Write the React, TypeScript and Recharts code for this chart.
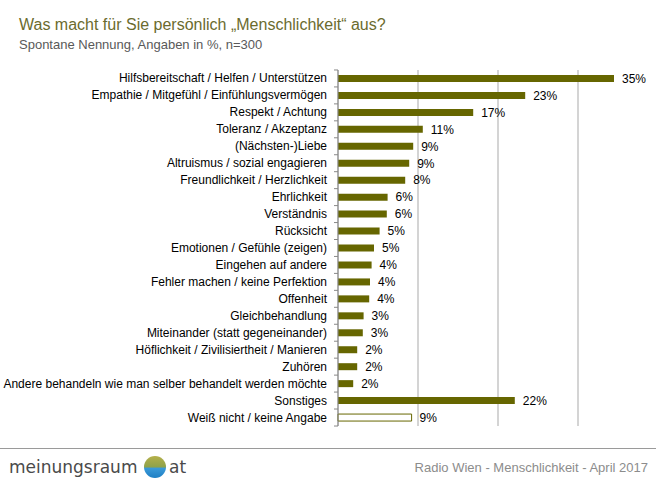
import React from 'react';
import { BarChart, Bar, XAxis, YAxis, CartesianGrid, LabelList, Cell } from 'recharts';

const categories = [
  'Hilfsbereitschaft / Helfen / Unterstützen',
  'Empathie / Mitgefühl / Einfühlungsvermögen',
  'Respekt / Achtung',
  'Toleranz / Akzeptanz',
  '(Nächsten-)Liebe',
  'Altruismus / sozial engagieren',
  'Freundlichkeit / Herzlichkeit',
  'Ehrlichkeit',
  'Verständnis',
  'Rücksicht',
  'Emotionen / Gefühle (zeigen)',
  'Eingehen auf andere',
  'Fehler machen / keine Perfektion',
  'Offenheit',
  'Gleichbehandlung',
  'Miteinander (statt gegeneinander)',
  'Höflichkeit / Zivilisiertheit / Manieren',
  'Zuhören',
  'Andere behandeln wie man selber behandelt werden möchte',
  'Sonstiges',
  'Weiß nicht / keine Angabe',
];

const values = [34.5, 23.4, 16.9, 10.6, 9.4, 8.9, 8.4, 6.2, 6.1, 5.2, 4.5, 4.2, 4.0, 3.9, 3.2, 3.1, 2.4, 2.4, 1.9, 22.1, 9.2];

const valueLabels = ['35%', '23%', '17%', '11%', '9%', '9%', '8%', '6%', '6%', '5%', '5%', '4%', '4%', '4%', '3%', '3%', '2%', '2%', '2%', '22%', '9%'];

const xTicks = [0, 10, 20, 30, 40];

const rows = categories.map((name, i) => ({ name, value: values[i], label: valueLabels[i] }));

const OLIVE = '#666600';
const FONT = 'Arial, "Liberation Sans", sans-serif';

// category label plus the little tick marks between the rows
const CategoryTick = (props: any) => {
  const { x, y, payload, index } = props;
  const axisX = x + 11;
  return (
    <g>
      <text x={x} y={y} dy={4} textAnchor="end" fontSize={12} fill="#000" fontFamily={FONT}>
        {payload.value}
      </text>
      <line x1={axisX - 4} x2={axisX} y1={y - 8.5} y2={y - 8.5} stroke="#888" />
      {index === categories.length - 1 && (
        <line x1={axisX - 4} x2={axisX} y1={y + 8.5} y2={y + 8.5} stroke="#888" />
      )}
    </g>
  );
};

export default function App() {
  return (
    <div style={{ position: 'absolute', left: 0, top: 0, width: 656, height: 482, overflow: 'hidden', background: '#fff', fontFamily: FONT }}>
      <div style={{ position: 'absolute', left: 19, top: 16, fontSize: 16, color: '#6b6b2e', whiteSpace: 'nowrap' }}>
        Was macht für Sie persönlich „Menschlichkeit“ aus?
      </div>
      <div style={{ position: 'absolute', left: 19, top: 37, fontSize: 13, color: '#595959', whiteSpace: 'nowrap' }}>
        Spontane Nennung, Angaben in %, n=300
      </div>

      <div style={{ position: 'absolute', left: 0, top: 0 }}>
        <BarChart
          width={660}
          height={482}
          layout="vertical"
          data={rows}
          margin={{ top: 70, right: 2, bottom: 56, left: 0 }}
          barSize={7}
        >
          <CartesianGrid horizontal={false} stroke="#bdbdbd" strokeWidth={1.3} />
          <XAxis type="number" domain={[0, 40]} ticks={xTicks} hide />
          <YAxis
            type="category"
            dataKey="name"
            width={338}
            interval={0}
            tickSize={4}
            tickMargin={7}
            tickLine={false}
            axisLine={{ stroke: '#888' }}
            tick={<CategoryTick />}
          />
          <Bar dataKey="value" isAnimationActive={false}>
            {rows.map((r, i) => (
              <Cell
                key={r.name}
                fill={i === rows.length - 1 ? '#fff' : OLIVE}
                stroke={i === rows.length - 1 ? OLIVE : 'none'}
              />
            ))}
            <LabelList dataKey="label" position="right" offset={8} fill="#000" fontSize={12} fontFamily={FONT} />
          </Bar>
        </BarChart>
      </div>

      {/* footer */}
      <div style={{ position: 'absolute', left: 0, top: 448, width: 656, height: 1, background: '#9a9a9a' }} />
      <svg style={{ position: 'absolute', left: 0, top: 452 }} width={200} height={30}>
        <defs>
          <linearGradient id="globe" x1="0" y1="0" x2="0" y2="1">
            <stop offset="0" stopColor="#b5b04a" />
            <stop offset="0.5" stopColor="#8fa24a" />
            <stop offset="0.55" stopColor="#3a9ad9" />
            <stop offset="1" stopColor="#1e7fc4" />
          </linearGradient>
        </defs>
        <text x={9} y={21} fontSize={17} fill="#4a4a4a" fontFamily='"DejaVu Sans", sans-serif'>
          meinungsraum
        </text>
        <circle cx={155} cy={15} r={11} fill="url(#globe)" />
        <text x={169} y={21} fontSize={17} fill="#4a4a4a" fontFamily='"DejaVu Sans", sans-serif'>
          at
        </text>
      </svg>
      <div style={{ position: 'absolute', right: 8, top: 460, fontSize: 13, color: '#8c8c8c', whiteSpace: 'nowrap' }}>
        Radio Wien - Menschlichkeit - April 2017
      </div>
    </div>
  );
}
